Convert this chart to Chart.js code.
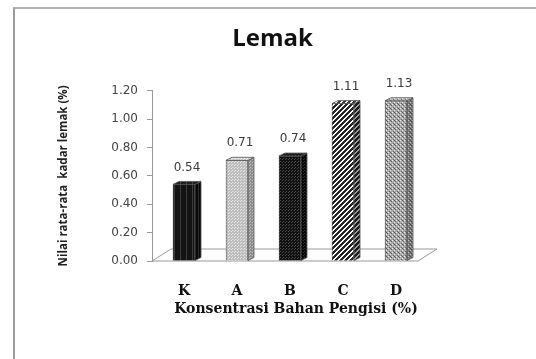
<!DOCTYPE html>
<html>
<head>
<meta charset="utf-8">
<script src="https://cdn.jsdelivr.net/npm/chart.js@4/dist/chart.umd.min.js"></script>
<style>
  html, body { margin: 0; padding: 0; background: #fff; }
  #wrap { position: relative; width: 536px; height: 359px; overflow: hidden; }
  #frame { position: absolute; left: 13px; top: 7px; width: 600px; height: 400px;
           border-left: 2px solid #9d9d9d; border-top: 2px solid #b4b4b4;
           box-sizing: border-box; pointer-events: none; }
  canvas { position: absolute; left: 0; top: 0; }
</style>
</head>
<body>
<div id="wrap"><canvas id="c" width="536" height="359"></canvas><div id="frame"></div></div>
<script>
// Fat content per filler concentration
const categories = ['K', 'A', 'B', 'C', 'D'];
const values = [0.54, 0.71, 0.74, 1.11, 1.13];
const yTicks = [0.00, 0.20, 0.40, 0.60, 0.80, 1.00, 1.20];

// --- fill patterns -------------------------------------------------------
function pattern(w, h, paint) {
  const c = document.createElement('canvas');
  c.width = w; c.height = h;
  const g = c.getContext('2d');
  paint(g, w, h);
  return g.createPattern(c, 'repeat');
}
function px(g, x, y, col) { g.fillStyle = col; g.fillRect(x, y, 1, 1); }

const fills = {
  stripesDark: (bg, line) => pattern(6, 6, (g) => { g.fillStyle = bg; g.fillRect(0, 0, 6, 6); g.fillStyle = line; g.fillRect(0, 0, 1, 6); }),
  dots: (bg, dot) => pattern(3, 3, (g) => { g.fillStyle = bg; g.fillRect(0, 0, 3, 3); px(g, 0, 0, dot); px(g, 1, 2, dot); }),
  diagonal: (bg, line) => pattern(5, 5, (g) => {
    g.fillStyle = bg; g.fillRect(0, 0, 5, 5);
    for (let i = 0; i < 5; i++) { px(g, (4 - i + 5) % 5, i, line); px(g, (5 - i + 5) % 5, i, line); px(g, (6 - i + 5) % 5, i, line); }
  }),
  speckle: (bg, a, b) => pattern(4, 4, (g) => {
    g.fillStyle = bg; g.fillRect(0, 0, 4, 4);
    px(g, 0, 0, a); px(g, 2, 2, a); px(g, 1, 3, b); px(g, 3, 1, b); px(g, 2, 0, b);
  })
};

const frontFill = [
  fills.stripesDark('#131313', '#3c3c3c'),
  fills.dots('#bdbdbd', '#e8e8e8'),
  fills.dots('#111111', '#4a4a4a'),
  fills.diagonal('#ffffff', '#262626'),
  fills.speckle('#a9a9a9', '#eeeeee', '#5e5e5e')
];
const sideFill = [
  fills.stripesDark('#080808', '#2a2a2a'),
  fills.dots('#909090', '#bdbdbd'),
  fills.dots('#080808', '#333333'),
  fills.diagonal('#9c9c9c', '#1a1a1a'),
  fills.speckle('#7c7c7c', '#c4c4c4', '#4a4a4a')
];
const topFill = [
  fills.stripesDark('#1e1e1e', '#454545'),
  fills.dots('#d4d4d4', '#f6f6f6'),
  fills.dots('#1a1a1a', '#555555'),
  fills.diagonal('#ffffff', '#3a3a3a'),
  fills.speckle('#bebebe', '#ffffff', '#707070')
];

// depth of the pseudo-3D columns and floor
const DX = 6, DY = 3;
const FLOOR_DX = 19, FLOOR_DY = 12;

const depth3d = {
  id: 'depth3d',
  beforeDatasetsDraw(chart) {
    const { ctx, chartArea: a } = chart;
    ctx.save();
    ctx.beginPath();
    ctx.moveTo(a.left, a.bottom);
    ctx.lineTo(a.right - FLOOR_DX - 3, a.bottom);
    ctx.lineTo(a.right - 3, a.bottom - FLOOR_DY);
    ctx.lineTo(a.left + FLOOR_DX, a.bottom - FLOOR_DY);
    ctx.closePath();
    ctx.fillStyle = '#fdfdfd';
    ctx.fill();
    ctx.strokeStyle = '#9a9a9a';
    ctx.lineWidth = 1;
    ctx.stroke();
    ctx.restore();
  },
  afterDatasetsDraw(chart) {
    const { ctx } = chart;
    const meta = chart.getDatasetMeta(0);
    ctx.save();
    meta.data.forEach((bar, i) => {
      const { x, y, base, width } = bar.getProps(['x', 'y', 'base', 'width'], true);
      const l = x - width / 2, r = x + width / 2;
      ctx.strokeStyle = '#555';
      ctx.lineWidth = 0.8;
      // right side face
      ctx.beginPath();
      ctx.moveTo(r, y); ctx.lineTo(r + DX, y - DY); ctx.lineTo(r + DX, base - DY); ctx.lineTo(r, base);
      ctx.closePath();
      ctx.fillStyle = sideFill[i]; ctx.fill(); ctx.stroke();
      // top face
      ctx.beginPath();
      ctx.moveTo(l, y); ctx.lineTo(l + DX, y - DY); ctx.lineTo(r + DX, y - DY); ctx.lineTo(r, y);
      ctx.closePath();
      ctx.fillStyle = topFill[i]; ctx.fill(); ctx.stroke();
      // value label
      ctx.fillStyle = '#3a3a3a';
      ctx.font = '12px "DejaVu Sans"';
      ctx.textAlign = 'center';
      ctx.textBaseline = 'middle';
      ctx.fillText(values[i].toFixed(2), x + DX / 2, y - 17);
    });
    ctx.restore();
  }
};

new Chart(document.getElementById('c'), {
  type: 'bar',
  data: {
    datasets: [{
      data: values.map((v, i) => ({ x: i, y: v })),
      backgroundColor: frontFill,
      borderColor: '#555',
      borderWidth: 0.8,
      barThickness: 22
    }]
  },
  options: {
    responsive: false,
    devicePixelRatio: 1,
    animation: false,
    layout: { padding: { left: 9, right: 0, top: 10, bottom: 38 } },
    plugins: {
      legend: { display: false },
      tooltip: { enabled: false },
      title: {
        display: true,
        text: 'Lemak',
        color: '#111',
        font: { family: 'Open Sans', weight: 'bold', size: 24 },
        padding: { top: 15, bottom: 37 }
      }
    },
    scales: {
      x: {
        type: 'linear',
        offset: false,
        min: -0.604,
        max: 4.83,
        afterBuildTicks: (s) => { s.ticks = categories.map((c, i) => ({ value: i })); },
        ticks: {
          callback: (v) => categories[v],
          autoSkip: false, maxRotation: 0,
          color: '#111',
          font: { family: 'DejaVu Serif', weight: 'bold', size: 14 },
          padding: 14
        },
        grid: { display: false, offset: false },
        border: { display: false },
        title: {
          display: true,
          text: 'Konsentrasi Bahan Pengisi (%)',
          color: '#111',
          font: { family: 'DejaVu Serif', weight: 'bold', size: 14 },
          padding: { top: 0, bottom: 3 }
        },
        afterFit: (s) => { s.height = 60; }
      },
      y: {
        min: 0,
        max: 1.2,
        afterBuildTicks: (s) => { s.ticks = yTicks.map((v) => ({ value: v })); },
        ticks: {
          callback: (v) => v.toFixed(2),
          color: '#444',
          font: { family: 'DejaVu Sans', size: 12 },
          padding: 9
        },
        grid: { drawOnChartArea: false, drawTicks: true, tickLength: 5, color: '#9a9a9a' },
        border: { display: true, color: '#9a9a9a' },
        title: {
          display: true,
          text: 'Nilai rata-rata  kadar lemak (%)',
          color: '#222',
          font: { family: 'Open Sans', weight: 'bold', size: 11.5 },
          padding: { top: 48, bottom: 0 }
        },
        afterFit: (s) => { s.width = 143; }
      },
      side: {
        type: 'linear',
        position: 'right',
        min: 0, max: 1,
        ticks: { display: false },
        grid: { display: false },
        border: { display: false },
        afterFit: (s) => { s.width = 96; }
      }
    }
  },
  plugins: [depth3d]
});
</script>
</body>
</html>
